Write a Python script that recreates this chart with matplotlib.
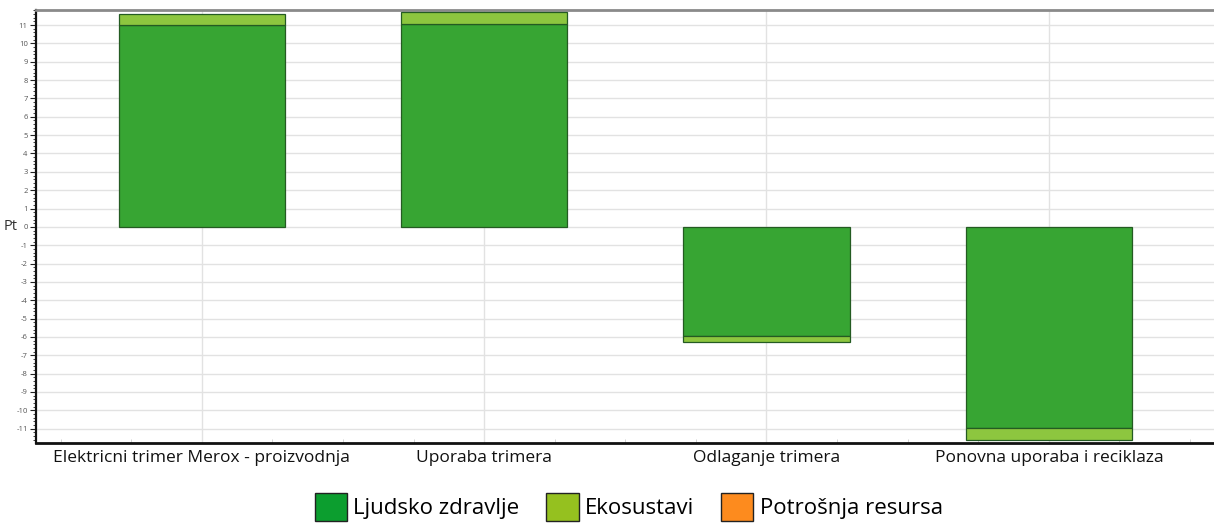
import numpy as np
import matplotlib.pyplot as plt
from matplotlib.patches import Patch
from matplotlib.ticker import MultipleLocator

# categories and values (Pt)
categories = ['Elektricni trimer Merox - proizvodnja', 'Uporaba trimera',
              'Odlaganje trimera', 'Ponovna uporaba i reciklaza']
ljudsko_zdravlje = [11.0, 11.05, -5.95, -10.95]
ekosustavi = [0.62, 0.68, -0.32, -0.65]
potrosnja_resursa = [0.0, 0.0, 0.0, 0.0]

legend_labels = ['Ljudsko zdravlje', 'Ekosustavi', 'Potrošnja resursa']

plt.rcParams['font.family'] = ['Open Sans', 'DejaVu Sans']
plt.rcParams['axes.unicode_minus'] = False

fig = plt.figure(figsize=(12.14, 5.27), dpi=100)
ax = fig.add_axes([0.0297, 0.1594, 0.9703, 0.8216])

x = np.arange(len(categories))
width = 0.59
bar_green = '#37a533'
bar_light = '#8dc63f'
edge = '#245b22'

ax.bar(x, ljudsko_zdravlje, width, color=bar_green, edgecolor=edge, linewidth=0.9, zorder=3)
ax.bar(x, ekosustavi, width, bottom=ljudsko_zdravlje, color=bar_light, edgecolor=edge,
       linewidth=0.9, zorder=3)

ax.set_xlim(-0.587, 3.585)
ax.set_ylim(-11.78, 11.82)

ax.set_xticks(x)
ax.set_xticklabels(categories, fontsize=12.5, color='#111111')
ax.xaxis.set_minor_locator(MultipleLocator(0.25))
ax.tick_params(axis='x', which='major', length=0, pad=5)
ax.tick_params(axis='x', which='minor', length=3, color='#cccccc', direction='in')

ax.set_yticks(np.arange(-11, 12, 1))
ax.yaxis.set_minor_locator(MultipleLocator(0.2))
ax.tick_params(axis='y', which='major', labelsize=5.5, labelcolor='#555555', length=4,
               color='#222222', pad=2)
ax.tick_params(axis='y', which='minor', length=2, color='#222222')

ax.grid(axis='y', color='#e2e2e2', linewidth=1.0, zorder=0)
ax.grid(axis='x', which='major', color='#e2e2e2', linewidth=1.0, zorder=0)

ax.spines['left'].set_color('#111111')
ax.spines['left'].set_linewidth(1.6)
ax.spines['bottom'].set_color('#111111')
ax.spines['bottom'].set_linewidth(2.0)
ax.spines['top'].set_color('#8a8a8a')
ax.spines['top'].set_linewidth(2.0)
ax.spines['right'].set_visible(False)

fig.text(0.003, ax.transData.transform((0, 0))[1] / fig.bbox.height, 'Pt', fontsize=10.5,
         va='center', ha='left', color='#333333')

handles = [Patch(facecolor='#0c9e2f', edgecolor='#222222', linewidth=1.0),
           Patch(facecolor='#95c11f', edgecolor='#222222', linewidth=1.0),
           Patch(facecolor='#fd8b1e', edgecolor='#222222', linewidth=1.0)]
fig.legend(handles, legend_labels, loc='center', bbox_to_anchor=(0.518, 0.038), ncol=3,
           frameon=False, fontsize=16, handlelength=1.45, handleheight=1.5,
           handletextpad=0.3, columnspacing=1.2)

fig.savefig('out.png', dpi=100)
